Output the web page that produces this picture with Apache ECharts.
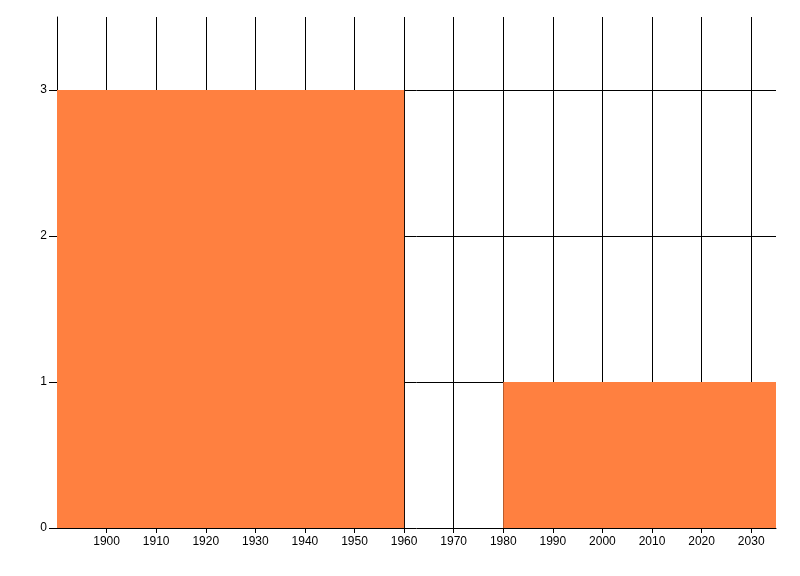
<!DOCTYPE html>
<html>
<head>
<meta charset="utf-8">
<script src="https://cdn.jsdelivr.net/npm/echarts@6/dist/echarts.min.js"></script>
<style>html,body{margin:0;padding:0;background:#fff}#c{width:800px;height:576px}</style>
</head>
<body>
<div id="c"></div>
<script>
var binStarts = [1890, 1960, 1980];
var binEnds = [1960, 1980, 2035];
var counts = [3, 0, 1];
var xMin = 1890, xMax = 2035, xStep = 10;
var yMin = 0, yMax = 3.5, yStep = 1;

var chart = echarts.init(document.getElementById('c'), null, {renderer: 'canvas'});
var data = binStarts.map(function (s, i) { return [s, binEnds[i], counts[i]]; });
var font = '"Liberation Sans Narrow", "Liberation Sans", sans-serif';
chart.setOption({
  animation: false,
  backgroundColor: '#ffffff',
  grid: {left: 57, right: 24, top: 17, bottom: 48},
  xAxis: {
    type: 'value', min: xMin, max: xMax, interval: xStep,
    axisLine: {show: true, lineStyle: {color: '#000', width: 1}},
    axisTick: {show: true, length: 5, lineStyle: {color: '#000'}},
    axisLabel: {color: '#000', fontSize: 12, fontFamily: font, margin: 8, showMinLabel: false, showMaxLabel: false,
      formatter: function (v) { return String(v); }},
    splitLine: {show: true, showMinLine: false, showMaxLine: false, lineStyle: {color: '#000', width: 1}}
  },
  yAxis: {
    type: 'value', min: yMin, max: yMax, interval: yStep,
    axisLine: {show: true, lineStyle: {color: '#000', width: 1}},
    axisTick: {show: true, length: 8, lineStyle: {color: '#000'}},
    axisLabel: {color: '#000', fontSize: 12, fontFamily: font, margin: 10, showMaxLabel: false,
      formatter: function (v) { return String(v); }},
    splitLine: {show: true, showMinLine: false, showMaxLine: false, lineStyle: {color: '#000', width: 1}}
  },
  series: [{
    type: 'custom',
    z: 5,
    data: data,
    encode: {x: [0, 1], y: 2},
    renderItem: function (params, api) {
      var p0 = api.coord([api.value(0), api.value(2)]);
      var p1 = api.coord([api.value(1), 0]);
      return {
        type: 'rect',
        shape: {x: p0[0], y: p0[1], width: p1[0] - p0[0], height: p1[1] - p0[1]},
        style: {fill: '#ff8040'}
      };
    }
  }]
});
</script>
</body>
</html>
